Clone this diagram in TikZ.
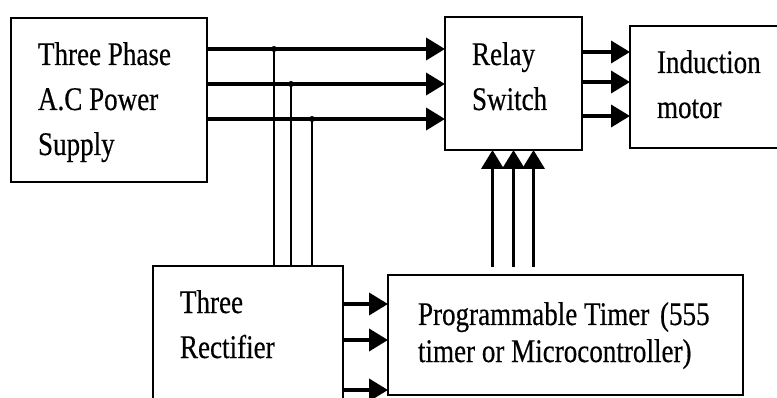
\documentclass[tikz,border=0pt]{standalone}
\usepackage{fontspec}
\setmainfont{Liberation Serif}[FakeStretch=0.82, FakeBold=0.4]
\usetikzlibrary{arrows.meta, positioning, calc}
\tikzset{
  block/.style={
    rectangle, draw=black, line width=2.2pt, outer sep=0pt,
    align=flush left, inner xsep=27pt, inner ysep=0pt,
    font=\fontsize{33}{45}\selectfont
  },
  flow/.style={-{Triangle[length=19pt, width=22pt]}, line width=3.8pt},
  tap/.style={line width=2.4pt},
  joint/.style={circle, fill=black, inner sep=0pt, minimum size=6pt},
}
\begin{document}
\begin{tikzpicture}[x=1pt, y=-1pt]
\useasboundingbox (0,0) rectangle (777,398);
\clip (0,0) rectangle (777,398);

% --- Blocks ---
\node[block, text width=142pt, minimum height=164pt, text height=25pt, text depth=95pt]
  (supply) at (109,100) {Three Phase\\A.C Power\\Supply};

\node[block, text width=83pt, minimum height=133pt, text height=25pt, text depth=62pt]
  (relay) at (513.5,83.5) {Relay\\Switch};

\node[block, text width=116pt, minimum height=122pt, text height=25pt, text depth=53pt]
  (motor) at (715,87) {Induction\\motor};

\node[block, text width=136pt, minimum height=154pt, text height=25pt, text depth=85pt]
  (rectifier) at (248,343) {Three\\Rectifier};

\node[block, inner xsep=30pt, text width=295pt, minimum height=120pt, text height=24pt,
  text depth=44pt, font=\fontsize{33}{37}\selectfont]
  (timer) at (565.5,335) {Programmable Timer\hspace{4pt} (555\\timer or Microcontroller)};

% --- Supply lines to the relay ---
\foreach \dy/\n in {31/1, 66/2, 101/3}
  \draw[flow] ([yshift=-\dy pt]supply.north east) coordinate (s\n) -- (s\n -| relay.west);

% --- Taps down to the rectifier ---
\foreach \dx/\n in {67/1, 84/2, 105/3} {
  \node[joint] (j\n) at ([xshift=\dx pt]s\n) {};
  \draw[tap] (j\n.center) -- (j\n |- rectifier.north);
}

% --- Relay to motor ---
\foreach \dy/\n in {35/1, 65/2, 99/3}
  \draw[flow] ([yshift=-\dy pt]relay.north east) coordinate (m\n) -- (m\n -| motor.west);

% --- Rectifier to timer ---
\foreach \dy/\n in {38/1, 74/2, 124/3}
  \draw[flow] ([yshift=-\dy pt]rectifier.north east) coordinate (c\n) -- (c\n -| timer.west);

% --- Timer control to relay ---
\foreach \dx/\n in {-21/1, 0/2, 20/3} {
  \path ([xshift=\dx pt]relay.south) coordinate (r\n);
  \draw[flow, shorten <=8pt] (r\n |- timer.north) -- (r\n);
}

\end{tikzpicture}
\end{document}
